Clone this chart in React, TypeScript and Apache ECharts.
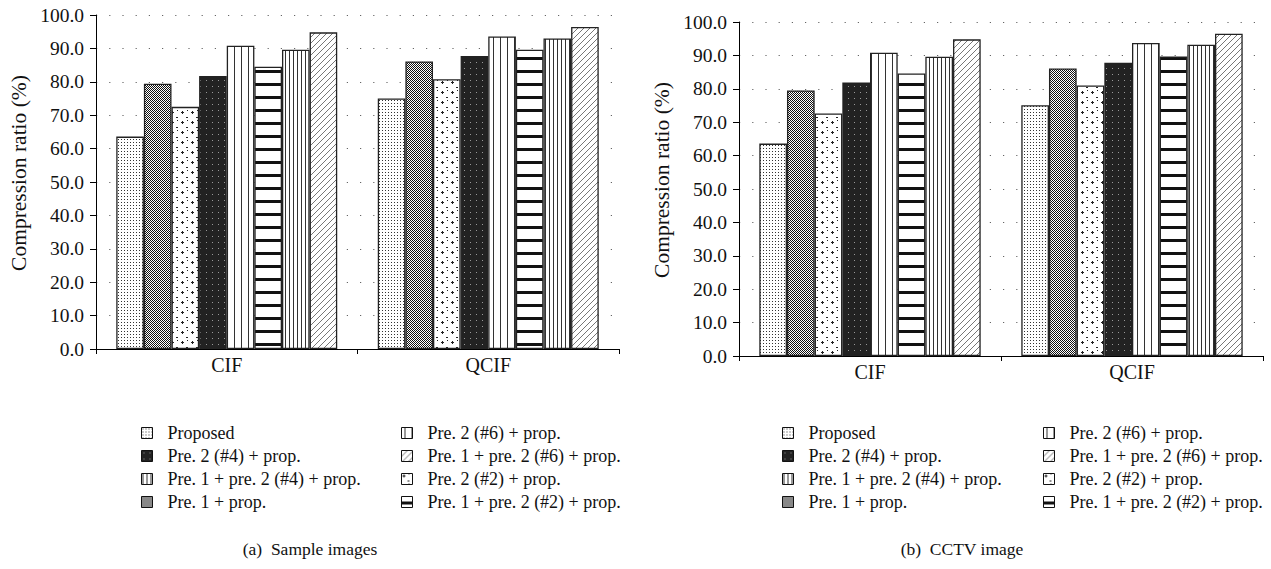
import React, { useEffect, useRef } from "react";
import * as echarts from "echarts";

const categories = ["CIF", "QCIF"];
const seriesNames = [
  "Proposed",
  "Pre. 1 + prop.",
  "Pre. 2 (#2) + prop.",
  "Pre. 2 (#4) + prop.",
  "Pre. 2 (#6) + prop.",
  "Pre. 1 + pre. 2 (#2) + prop.",
  "Pre. 1 + pre. 2 (#4) + prop.",
  "Pre. 1 + pre. 2 (#6) + prop.",
];
const sampleCIF = [63.6, 79.4, 72.5, 81.7, 90.8, 84.5, 89.6, 94.8];
const sampleQCIF = [75.0, 86.1, 80.8, 87.7, 93.6, 89.6, 93.0, 96.4];
const cctvCIF = [63.6, 79.5, 72.6, 81.9, 90.8, 84.6, 89.6, 94.8];
const cctvQCIF = [75.1, 86.1, 81.0, 87.8, 93.7, 89.7, 93.2, 96.5];
const yTicks = [0, 10, 20, 30, 40, 50, 60, 70, 80, 90, 100];
const yAxisTitle = "Compression ratio (%)";
const legendCol1 = [
  "Proposed",
  "Pre. 2 (#4) + prop.",
  "Pre. 1 + pre. 2 (#4) + prop.",
  "Pre. 1 + prop.",
];
const legendCol2 = [
  "Pre. 2 (#6) + prop.",
  "Pre. 1 + pre. 2 (#6) + prop.",
  "Pre. 2 (#2) + prop.",
  "Pre. 1 + pre. 2 (#2) + prop.",
];
const captions = ["(a)  Sample images", "(b)  CCTV image"];

const FONT = "'Liberation Serif', 'DejaVu Serif', serif";

function makePattern(w: number, h: number, bg: string, draw: (ctx: CanvasRenderingContext2D) => void) {
  const c = document.createElement("canvas");
  c.width = w;
  c.height = h;
  const ctx = c.getContext("2d") as CanvasRenderingContext2D;
  ctx.fillStyle = bg;
  ctx.fillRect(0, 0, w, h);
  draw(ctx);
  return { image: c, repeat: "repeat", imageWidth: w, imageHeight: h } as any;
}

function buildPatterns() {
  return [
    // Proposed: fine dots
    makePattern(3, 3, "#fff", (ctx) => {
      ctx.fillStyle = "#333";
      ctx.fillRect(1, 1, 1, 1);
    }),
    // Pre.1 + prop.: checker
    makePattern(2, 2, "#fff", (ctx) => {
      ctx.fillStyle = "#111";
      ctx.fillRect(0, 0, 1, 1);
      ctx.fillRect(1, 1, 1, 1);
    }),
    // Pre.2 (#2): sparse marks
    makePattern(10, 10, "#fff", (ctx) => {
      ctx.fillStyle = "#222";
      ctx.fillRect(1, 2, 3, 1);
      ctx.fillRect(2, 1, 1, 3);
      ctx.fillRect(6, 7, 2, 1);
      ctx.fillRect(7, 0, 1, 1);
    }),
    // Pre.2 (#4): black with gray dots
    makePattern(6, 6, "#222", (ctx) => {
      ctx.fillStyle = "#999";
      ctx.fillRect(2, 2, 1, 1);
    }),
    // Pre.2 (#6): vertical lines
    makePattern(7, 7, "#fff", (ctx) => {
      ctx.fillStyle = "#333";
      ctx.fillRect(3, 0, 1, 7);
    }),
    // Pre.1 + pre.2 (#2): thick horizontal lines
    makePattern(13, 13, "#fff", (ctx) => {
      ctx.fillStyle = "#111";
      ctx.fillRect(0, 5, 13, 3);
    }),
    // Pre.1 + pre.2 (#4): dense vertical lines
    makePattern(4, 4, "#fff", (ctx) => {
      ctx.fillStyle = "#333";
      ctx.fillRect(1, 0, 1, 4);
    }),
    // Pre.1 + pre.2 (#6): diagonal hatch
    makePattern(6, 6, "#fff", (ctx) => {
      ctx.fillStyle = "#777";
      for (let i = 0; i < 6; i++) ctx.fillRect(i, 5 - i, 1, 1);
    }),
  ];
}

export default function App() {
  const ref = useRef<HTMLDivElement>(null);
  useEffect(() => {
    document.body.style.margin = "0";
    if (!ref.current) return;
    const chart = echarts.init(ref.current, undefined, { renderer: "svg" });
    const patterns = buildPatterns();

    const grids = [
      { left: 96, top: 15, width: 523, height: 334 },
      { left: 739, top: 22, width: 524, height: 334 },
    ];
    const dataSets = [
      [sampleCIF, sampleQCIF],
      [cctvCIF, cctvQCIF],
    ];

    const xAxis = grids.map((_, gi) => ({
      type: "category",
      gridIndex: gi,
      data: categories,
      axisLine: { lineStyle: { color: "#000", width: 1 } },
      axisTick: { show: true, length: 5, lineStyle: { color: "#000" } },
      axisLabel: { color: "#111", fontFamily: FONT, fontSize: 20, margin: 6 },
    }));
    const yAxis = grids.map((_, gi) => ({
      type: "value",
      gridIndex: gi,
      min: yTicks[0],
      max: yTicks[yTicks.length - 1],
      interval: yTicks[1] - yTicks[0],
      axisLine: { show: true, lineStyle: { color: "#000", width: 1 } },
      axisTick: { show: true, length: 6, lineStyle: { color: "#000" } },
      axisLabel: {
        color: "#111",
        fontFamily: FONT,
        fontSize: 19.5,
        margin: 12,
        formatter: (v: number) => v.toFixed(1),
      },
      splitLine: { show: true, lineStyle: { color: "#666", width: 1.2, type: [1.2, 12] } },
    }));

    const series: any[] = [];
    dataSets.forEach((ds, gi) => {
      seriesNames.forEach((name, si) => {
        series.push({
          type: "bar",
          name,
          xAxisIndex: gi,
          yAxisIndex: gi,
          data: [ds[0][si], ds[1][si]],
          barGap: "0%",
          barCategoryGap: "15.5%",
          itemStyle: { color: patterns[si], borderColor: "#222", borderWidth: 1.3 },
        });
      });
    });

    const legendBase = {
      orient: "vertical",
      icon: "rect",
      padding: 0,
      itemWidth: 11,
      itemHeight: 11,
      itemGap: 5,
      selectedMode: false,
      itemStyle: { borderColor: "#111", borderWidth: 1 },
      textStyle: { color: "#111", fontFamily: FONT, fontSize: 18, lineHeight: 18, padding: [0, 0, 0, 10] },
    };
    const legendLefts = [
      [141, 401],
      [782, 1043],
    ];
    const legend: any[] = [];
    legendLefts.forEach((cols) => {
      legend.push({ ...legendBase, left: cols[0], top: 424, data: legendCol1 });
      legend.push({ ...legendBase, left: cols[1], top: 424, data: legendCol2 });
    });

    const title = captions.map((t, i) => ({
      text: t,
      left: i === 0 ? 310 : 962,
      top: 540,
      padding: 0,
      textAlign: "center",
      textStyle: { color: "#111", fontFamily: FONT, fontSize: 17.5, fontWeight: "normal" },
    }));

    const nameCenters = [
      [19, 173],
      [662, 180],
    ];
    const graphic = nameCenters.map((c) => ({
      type: "text",
      x: c[0],
      y: c[1],
      rotation: Math.PI / 2,
      style: {
        text: yAxisTitle,
        fill: "#111",
        font: `21.5px ${FONT}`,
        textAlign: "center",
        textVerticalAlign: "middle",
      },
    }));

    chart.setOption({
      animation: false,
      backgroundColor: "#fff",
      title,
      grid: grids,
      xAxis,
      yAxis,
      legend,
      graphic,
      series,
    });
    return () => chart.dispose();
  }, []);
  return <div ref={ref} style={{ width: 1271, height: 569 }} />;
}
